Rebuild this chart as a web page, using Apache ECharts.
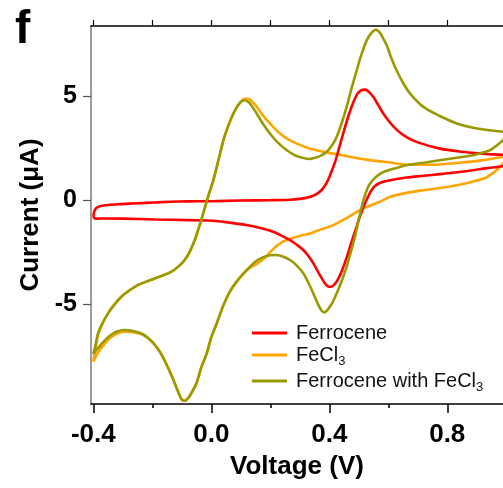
<!DOCTYPE html>
<html>
<head>
<meta charset="utf-8">
<script src="https://cdn.jsdelivr.net/npm/echarts@6/dist/echarts.min.js"></script>
<style>
html,body{margin:0;padding:0;background:#fff;}
#chart{width:503px;height:488px;}
</style>
</head>
<body>
<div id="chart"></div>
<script>
// ---- Data (voltage in V, current in µA), traced in scan order ----
const ferroceneV = [-0.400,-0.397,-0.390,-0.375,-0.350,-0.305,-0.250,-0.192,-0.140,-0.080,0.000,0.100,0.200,0.267,0.300,0.330,0.355,0.375,0.392,0.407,0.420,0.435,0.450,0.465,0.480,0.495,0.508,0.521,0.534,0.549,0.565,0.583,0.605,0.630,0.662,0.700,0.775,0.850,0.930,1.000,
  1.000,0.988,0.930,0.888,0.830,0.775,0.720,0.662,0.606,0.575,0.555,0.542,0.530,0.520,0.510,0.500,0.490,0.478,0.465,0.452,0.440,0.428,0.416,0.405,0.395,0.385,0.372,0.358,0.346,0.330,0.312,0.290,0.267,0.240,0.210,0.170,0.120,0.060,0.007,-0.080,-0.190,-0.300,-0.360,-0.385,-0.395,-0.400];
const ferroceneI = [-0.80,-0.55,-0.38,-0.28,-0.23,-0.19,-0.15,-0.11,-0.08,-0.06,-0.05,-0.02,0.00,0.02,0.06,0.14,0.28,0.50,0.85,1.35,1.85,2.60,3.35,4.05,4.65,5.10,5.28,5.32,5.22,4.97,4.60,4.17,3.75,3.37,3.03,2.78,2.48,2.33,2.22,2.12,
  1.70,1.63,1.53,1.44,1.34,1.25,1.17,1.09,0.96,0.85,0.68,0.45,0.12,-0.20,-0.55,-0.95,-1.40,-1.90,-2.50,-3.05,-3.50,-3.85,-4.08,-4.17,-4.15,-4.00,-3.70,-3.35,-3.04,-2.70,-2.40,-2.15,-1.92,-1.72,-1.52,-1.35,-1.20,-1.08,-0.99,-0.96,-0.93,-0.89,-0.88,-0.89,-0.88,-0.80];

const fecl3V = [-0.400,-0.392,-0.384,-0.370,-0.350,-0.330,-0.305,-0.278,-0.249,-0.220,-0.192,-0.164,-0.136,-0.112,-0.090,-0.072,-0.056,-0.045,-0.034,-0.021,-0.008,0.007,0.024,0.041,0.058,0.075,0.090,0.105,0.120,0.135,0.154,0.175,0.199,0.225,0.256,0.290,0.330,0.380,0.440,0.527,0.600,0.674,0.750,0.832,0.910,0.988,1.000,
  1.000,0.988,0.960,0.930,0.888,0.832,0.775,0.720,0.662,0.606,0.583,0.550,0.504,0.460,0.414,0.370,0.335,0.300,0.267,0.240,0.222,0.200,0.176,0.150,0.120,0.090,0.063,0.040,0.018,0.000,-0.016,-0.034,-0.050,-0.068,-0.080,-0.090,-0.100,-0.113,-0.130,-0.147,-0.170,-0.192,-0.215,-0.237,-0.265,-0.290,-0.315,-0.340,-0.361,-0.380,-0.400];
const fecl3I = [-7.77,-7.10,-6.50,-5.98,-5.45,-5.05,-4.65,-4.35,-4.09,-3.92,-3.77,-3.62,-3.45,-3.20,-2.88,-2.45,-1.92,-1.45,-0.96,-0.32,0.30,0.96,1.90,2.88,3.60,4.17,4.55,4.82,4.89,4.80,4.49,4.08,3.69,3.30,2.96,2.72,2.50,2.33,2.17,1.95,1.82,1.70,1.70,1.79,1.90,2.08,2.12,
  2.00,1.75,1.35,1.08,0.90,0.72,0.58,0.48,0.35,0.16,0.00,-0.20,-0.48,-0.85,-1.20,-1.42,-1.60,-1.72,-1.86,-2.02,-2.20,-2.50,-2.85,-3.10,-3.37,-3.85,-4.40,-5.10,-5.95,-6.60,-7.40,-8.05,-8.80,-9.30,-9.55,-9.65,-9.60,-9.20,-8.60,-8.05,-7.40,-6.95,-6.65,-6.45,-6.35,-6.33,-6.40,-6.60,-6.90,-7.25,-7.77];

const mixV = [-0.400,-0.392,-0.384,-0.370,-0.350,-0.330,-0.305,-0.278,-0.249,-0.220,-0.192,-0.164,-0.136,-0.112,-0.090,-0.072,-0.056,-0.045,-0.034,-0.021,-0.008,0.007,0.024,0.041,0.058,0.075,0.090,0.103,0.114,0.128,0.140,0.154,0.175,0.199,0.225,0.256,0.285,0.312,0.330,0.346,0.368,0.391,0.410,0.425,0.442,0.459,0.476,0.493,0.510,0.527,0.543,0.558,0.572,0.585,0.595,0.610,0.628,0.650,0.674,0.719,0.775,0.832,0.888,0.945,0.988,1.000,
  1.000,0.988,0.965,0.945,0.910,0.888,0.832,0.775,0.720,0.662,0.606,0.580,0.561,0.545,0.535,0.527,0.518,0.510,0.499,0.487,0.473,0.459,0.442,0.425,0.412,0.402,0.393,0.385,0.376,0.365,0.346,0.330,0.312,0.290,0.267,0.245,0.222,0.200,0.176,0.150,0.120,0.090,0.063,0.040,0.018,0.000,-0.016,-0.034,-0.050,-0.068,-0.080,-0.090,-0.100,-0.113,-0.130,-0.147,-0.170,-0.192,-0.215,-0.237,-0.265,-0.294,-0.320,-0.342,-0.361,-0.380,-0.400];
const mixI = [-7.40,-6.95,-6.41,-5.95,-5.45,-5.05,-4.65,-4.35,-4.09,-3.92,-3.77,-3.62,-3.45,-3.20,-2.88,-2.45,-1.92,-1.45,-0.96,-0.32,0.30,0.96,1.90,2.88,3.60,4.17,4.55,4.76,4.81,4.70,4.47,4.17,3.68,3.21,2.78,2.40,2.15,2.03,1.98,2.02,2.12,2.32,2.65,3.04,3.70,4.49,5.40,6.25,7.05,7.69,8.05,8.20,8.05,7.72,7.45,6.85,6.25,5.65,5.13,4.49,4.05,3.69,3.48,3.36,3.29,3.27,
  3.10,2.88,2.60,2.40,2.25,2.16,2.04,1.92,1.80,1.68,1.46,1.33,1.15,0.92,0.72,0.48,0.10,-0.32,-1.00,-1.76,-2.50,-3.20,-3.90,-4.49,-4.90,-5.13,-5.30,-5.40,-5.35,-5.10,-4.49,-4.00,-3.52,-3.15,-2.88,-2.72,-2.64,-2.65,-2.74,-2.95,-3.37,-3.85,-4.40,-5.10,-5.95,-6.60,-7.40,-8.05,-8.80,-9.30,-9.55,-9.65,-9.60,-9.20,-8.60,-8.05,-7.40,-6.95,-6.62,-6.42,-6.30,-6.25,-6.32,-6.50,-6.75,-7.05,-7.40];

const seriesNames = ['Ferrocene', 'FeCl3', 'Ferrocene with FeCl3'];
const xMajorTicks = [-0.4, 0.0, 0.4, 0.8];
const xMinorTicks = [-0.2, 0.2, 0.6];
const xTopTicks = [-0.4, -0.2, 0.0, 0.2, 0.4, 0.6, 0.8];
const yTicks = [-5, 0, 5];

// ---- Chart ----
const FONT = '"Liberation Sans", Arial, sans-serif';
const pairs = (xs, ys) => xs.map((x, i) => [x, ys[i]]);
const XMIN = -0.4078, XMAX = 0.989, YMIN = -9.81, YMAX = 8.38;

const chart = echarts.init(document.getElementById('chart'), null, {renderer: 'canvas'});

const legendCommon = {
  orient: 'horizontal', icon: 'rect', itemWidth: 35, itemHeight: 3, padding: 0,
  selectedMode: false,
  formatter: n => n.replace('FeCl3', 'FeCl{sub|3}'),
  textStyle: {
    fontFamily: FONT, fontSize: 20, color: '#111', padding: [0, 0, 0, 4],
    rich: { sub: { fontFamily: FONT, fontSize: 13, color: '#111', padding: [12, 0, 0, 0] } }
  }
};

chart.setOption({
  animation: false,
  backgroundColor: '#fff',
  grid: { left: 91, right: 0, top: 26, bottom: 84, containLabel: false },
  xAxis: [
    {
      type: 'value', min: XMIN, max: XMAX, position: 'bottom',
      name: 'Voltage (V)', nameLocation: 'middle', nameGap: 50,
      nameTextStyle: { fontFamily: FONT, fontSize: 26, fontWeight: 'bold', color: '#000' },
      axisLine: { show: true, onZero: false, lineStyle: { color: '#000', width: 1.5 } },
      axisTick: { show: true, customValues: xMajorTicks, length: 9, inside: false, lineStyle: { color: '#000', width: 1.5 } },
      axisLabel: { customValues: xMajorTicks, margin: 18, formatter: v => v.toFixed(1),
        fontFamily: FONT, fontSize: 26, fontWeight: 'bold', color: '#000' },
      splitLine: { show: false }
    },
    {
      type: 'value', min: XMIN, max: XMAX, position: 'bottom', gridIndex: 0,
      axisLine: { show: false, onZero: false },
      axisTick: { show: true, customValues: xMinorTicks, length: 4, lineStyle: { color: '#000', width: 1.5 } },
      axisLabel: { show: false },
      splitLine: { show: false }
    },
    {
      type: 'value', min: XMIN, max: XMAX, position: 'top', gridIndex: 0,
      axisLine: { show: true, onZero: false, lineStyle: { color: '#000', width: 1.5 } },
      axisTick: { show: true, customValues: xTopTicks, length: 6, lineStyle: { color: '#000', width: 1.2 } },
      axisLabel: { show: false },
      splitLine: { show: false }
    }
  ],
  yAxis: {
    type: 'value', min: YMIN, max: YMAX,
    name: 'Current (\u03bcA)', nameLocation: 'middle', nameGap: 46,
    nameTextStyle: { fontFamily: FONT, fontSize: 26, fontWeight: 'bold', color: '#000' },
    axisLine: { show: true, onZero: false, lineStyle: { color: '#9a9a9a', width: 2 } },
    axisTick: { show: true, customValues: yTicks, length: 8, lineStyle: { color: '#555', width: 1.2 } },
    axisLabel: { customValues: yTicks, margin: 14, fontFamily: FONT, fontSize: 25, fontWeight: 'bold', color: '#000' },
    splitLine: { show: false }
  },
  legend: [
    Object.assign({}, legendCommon, { data: [seriesNames[0]], left: 252, top: 323 }),
    Object.assign({}, legendCommon, { data: [seriesNames[1]], left: 252, top: 345 }),
    Object.assign({}, legendCommon, { data: [seriesNames[2]], left: 252, top: 371 })
  ],
  graphic: [
    { type: 'text', left: 15, top: 7, style: { text: 'f', font: 'bold 46px ' + FONT, fill: '#000' } }
  ],
  series: [
    { name: seriesNames[1], type: 'line', data: pairs(fecl3V, fecl3I), showSymbol: false, symbol: 'none',
      smooth: 0.3, clip: true, color: '#ffa500', lineStyle: { color: '#ffa500', width: 2.6 } },
    { name: seriesNames[0], type: 'line', data: pairs(ferroceneV, ferroceneI), showSymbol: false, symbol: 'none',
      smooth: 0.3, clip: true, color: '#ff0000', lineStyle: { color: '#ff0000', width: 2.6 } },
    { name: seriesNames[2], type: 'line', data: pairs(mixV, mixI), showSymbol: false, symbol: 'none',
      smooth: 0.3, clip: true, color: '#999900', lineStyle: { color: '#999900', width: 2.6 } }
  ]
});
</script>
</body>
</html>
